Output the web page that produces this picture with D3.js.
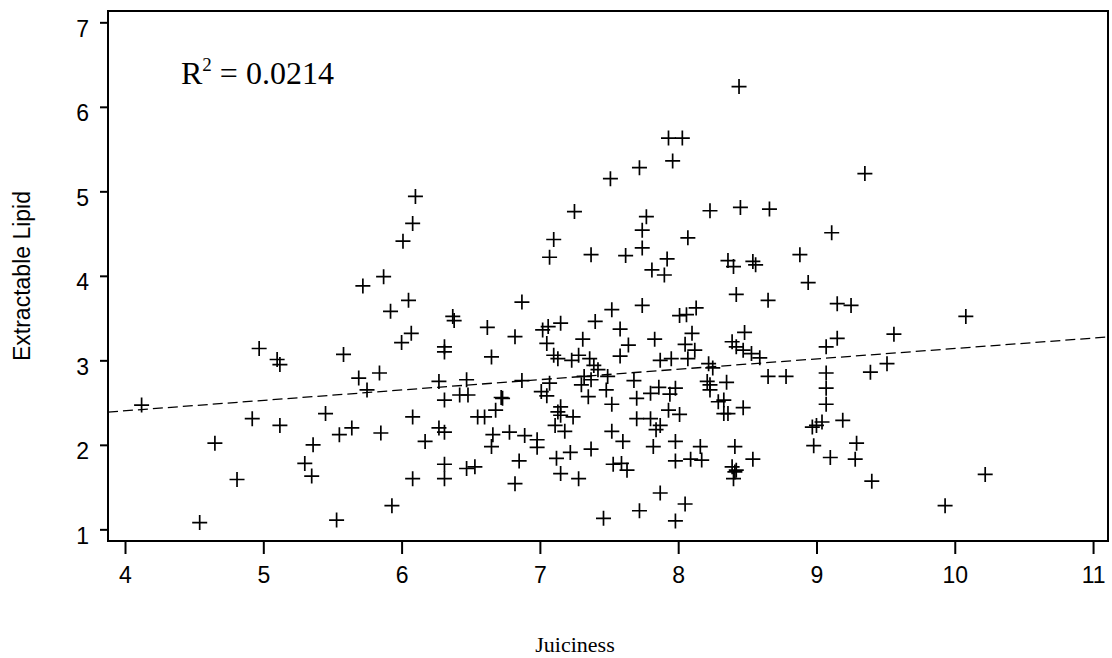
<!DOCTYPE html>
<html>
  <head>
    <meta charset="utf-8">
    <title>Juiciness vs extractable lipid</title>
    <script src="https://cdn.jsdelivr.net/npm/d3@7"></script>
    <style>
      body { margin: 0; background: #fff; }
      svg { display: block; }
      .tick text { font-family: "Liberation Sans", Arial, sans-serif; font-size: 23px; fill: #000; }
      .tick line { stroke: #000; stroke-width: 2px; }
    </style>
  </head>
  <body>
    <div id="chart"></div>

    <script>
      // data
      const juiciness = [
        6.10, 8.44, 7.93, 8.03, 7.96, 7.72, 7.51, 9.35, 4.97, 5.10,
        5.12, 5.58, 6.08, 6.01, 5.87, 5.72, 6.05, 5.92, 6.07, 6.00,
        5.69, 5.84, 6.37, 6.38, 6.31, 6.31, 6.62, 6.65, 6.82, 6.87,
        7.25, 7.10, 7.07, 7.37, 7.02, 7.06, 7.15, 7.40, 7.31, 7.05,
        7.10, 7.13, 7.23, 7.28, 7.36, 7.39, 7.42, 7.32, 7.77, 8.23,
        8.45, 8.66, 7.74, 8.07, 9.11, 7.74, 7.62, 7.92, 7.81, 7.90,
        8.36, 8.40, 8.54, 8.56, 8.88, 8.94, 8.42, 8.65, 9.15, 9.25,
        7.52, 7.74, 8.01, 8.06, 8.13, 7.58, 7.83, 7.64, 7.58, 8.10,
        8.05, 8.12, 7.87, 7.95, 8.07, 8.22, 8.25, 8.39, 8.48, 8.42,
        8.47, 8.53, 8.59, 9.15, 9.07, 7.49, 7.68, 8.65, 8.78, 9.07,
        9.56, 10.08, 9.51, 9.39, 4.12, 4.92, 5.12, 4.65, 4.81, 4.54,
        5.45, 5.55, 5.36, 5.30, 5.35, 5.53, 5.64, 5.75, 5.85, 6.08,
        6.17, 5.93, 6.08, 6.27, 6.31, 6.31, 6.31, 6.27, 6.31, 6.42,
        6.48, 6.47, 6.47, 6.53, 6.55, 6.60, 6.68, 6.72, 6.73, 6.66,
        6.65, 6.78, 6.89, 6.98, 6.98, 6.85, 6.82, 6.87, 7.01, 7.05,
        7.07, 7.15, 7.13, 7.15, 7.24, 7.11, 7.18, 7.12, 7.22, 7.37,
        7.15, 7.28, 7.30, 7.35, 7.37, 7.46, 7.72, 7.87, 8.05, 7.98,
        7.48, 7.52, 7.70, 7.80, 7.86, 7.98, 7.94, 7.93, 8.01, 7.70,
        7.80, 7.87, 7.84, 7.52, 7.60, 7.82, 7.98, 8.16, 7.53, 7.59,
        7.63, 7.98, 8.09, 8.17, 8.41, 8.54, 8.39, 8.42, 8.40, 8.41,
        8.21, 8.23, 8.35, 8.23, 8.29, 8.33, 8.36, 8.33, 8.47, 8.97,
        9.00, 9.04, 9.07, 9.07, 9.19, 8.98, 9.10, 9.29, 9.28, 9.40,
        9.93, 10.22
      ];
      const lipid = [
        4.94, 6.24, 5.63, 5.63, 5.36, 5.28, 5.15, 5.21, 3.14, 3.01,
        2.95, 3.07, 4.62, 4.41, 3.99, 3.88, 3.71, 3.58, 3.32, 3.21,
        2.79, 2.85, 3.52, 3.47, 3.16, 3.10, 3.39, 3.04, 3.28, 3.69,
        4.76, 4.43, 4.22, 4.25, 3.36, 3.40, 3.44, 3.46, 3.25, 3.20,
        3.06, 3.02, 3.00, 3.06, 3.02, 2.94, 2.89, 2.81, 4.70, 4.77,
        4.81, 4.79, 4.54, 4.45, 4.51, 4.33, 4.24, 4.20, 4.07, 4.01,
        4.18, 4.11, 4.17, 4.13, 4.25, 3.92, 3.78, 3.71, 3.67, 3.65,
        3.60, 3.65, 3.53, 3.54, 3.62, 3.37, 3.25, 3.18, 3.05, 3.32,
        3.19, 3.12, 3.00, 3.02, 3.02, 2.96, 2.91, 3.22, 3.33, 3.16,
        3.12, 3.08, 3.03, 3.26, 3.16, 2.81, 2.76, 2.81, 2.81, 2.85,
        3.31, 3.52, 2.96, 2.86, 2.47, 2.31, 2.23, 2.02, 1.59, 1.08,
        2.37, 2.12, 2.00, 1.78, 1.63, 1.11, 2.20, 2.65, 2.14, 2.33,
        2.04, 1.28, 1.60, 2.20, 2.15, 1.77, 1.60, 2.75, 2.53, 2.59,
        2.59, 2.77, 1.72, 1.74, 2.33, 2.33, 2.41, 2.56, 2.55, 2.12,
        1.98, 2.15, 2.11, 2.06, 1.97, 1.81, 1.54, 2.76, 2.63, 2.58,
        2.73, 2.45, 2.39, 2.35, 2.33, 2.23, 2.16, 1.84, 1.91, 1.95,
        1.66, 1.60, 2.71, 2.57, 2.77, 1.13, 1.22, 1.43, 1.30, 1.10,
        2.65, 2.48, 2.55, 2.61, 2.68, 2.67, 2.60, 2.41, 2.36, 2.31,
        2.31, 2.23, 2.18, 2.16, 2.04, 1.98, 2.04, 1.98, 1.77, 1.78,
        1.70, 1.81, 1.83, 1.82, 1.98, 1.83, 1.74, 1.70, 1.60, 1.68,
        2.75, 2.71, 2.74, 2.65, 2.51, 2.53, 2.37, 2.37, 2.44, 2.21,
        2.23, 2.27, 2.67, 2.48, 2.29, 1.99, 1.85, 2.02, 1.83, 1.57,
        1.28, 1.65
      ];
      const xTicks = [4, 5, 6, 7, 8, 9, 10, 11];
      const yTicks = [1, 2, 3, 4, 5, 6, 7];
      // fitted line
      const fitIntercept = 1.912;
      const fitSlope = 0.1228;
      const rSquared = "0.0214";

      const width = 1112, height = 658;
      const frame = { left: 108, right: 1108, top: 11, bottom: 541 };

      const x = d3.scaleLinear()
        .domain([3.877, 11.108])
        .range([frame.left, frame.right]);
      const y = d3.scaleLinear()
        .domain([0.862, 7.134])
        .range([frame.bottom, frame.top]);

      const svg = d3.select("#chart")
        .append("svg")
          .attr("width", width)
          .attr("height", height);

      // axes
      const xAxis = svg.append("g")
        .attr("transform", "translate(0," + frame.bottom + ")")
        .call(d3.axisBottom(x).tickValues(xTicks).tickSize(13).tickPadding(13).tickFormat(d3.format("d")));
      xAxis.select(".domain").remove();

      const yAxis = svg.append("g")
        .attr("transform", "translate(" + frame.left + ",0)")
        .call(d3.axisLeft(y).tickValues(yTicks).tickSize(8).tickPadding(11).tickFormat(d3.format("d")));
      yAxis.select(".domain").remove();
      yAxis.selectAll(".tick text").attr("dy", "0.6em");

      // frame
      svg.append("rect")
        .attr("x", frame.left)
        .attr("y", frame.top)
        .attr("width", frame.right - frame.left)
        .attr("height", frame.bottom - frame.top)
        .attr("fill", "none")
        .attr("stroke", "#000")
        .attr("stroke-width", 2);

      // regression line
      const xd = x.domain();
      svg.append("line")
        .attr("x1", x(xd[0]))
        .attr("y1", y(fitIntercept + fitSlope * xd[0]))
        .attr("x2", x(xd[1]))
        .attr("y2", y(fitIntercept + fitSlope * xd[1]))
        .attr("stroke", "#000")
        .attr("stroke-width", 1.3)
        .attr("stroke-dasharray", "10,5");

      // points as plus signs
      const arm = 7.5;
      svg.append("g")
        .selectAll("path")
        .data(d3.zip(juiciness, lipid))
        .enter().append("path")
          .attr("d", function(d) {
            const px = x(d[0]), py = y(d[1]);
            return "M" + (px - arm) + "," + py + "H" + (px + arm)
              + "M" + px + "," + (py - arm) + "V" + (py + arm);
          })
          .attr("stroke", "#000")
          .attr("stroke-width", 1.7)
          .attr("fill", "none");

      // R squared label
      const r2 = svg.append("text")
        .attr("x", 181)
        .attr("y", 84)
        .style("font-family", "'Liberation Serif', 'Times New Roman', serif")
        .style("font-size", "32px");
      r2.append("tspan").text("R");
      r2.append("tspan")
        .attr("dy", -13)
        .style("font-size", "19px")
        .text("2");
      r2.append("tspan")
        .attr("dy", 13)
        .text(" = " + rSquared);

      // axis titles
      svg.append("text")
        .attr("transform", "translate(30," + ((frame.top + frame.bottom) / 2) + ") rotate(-90)")
        .attr("text-anchor", "middle")
        .style("font-family", "'Liberation Sans', Arial, sans-serif")
        .style("font-size", "23px")
        .text("Extractable Lipid");

      svg.append("text")
        .attr("x", 575)
        .attr("y", 652)
        .attr("text-anchor", "middle")
        .style("font-family", "'Liberation Serif', 'Times New Roman', serif")
        .style("font-size", "22px")
        .text("Juiciness");
    </script>
  </body>
</html>
